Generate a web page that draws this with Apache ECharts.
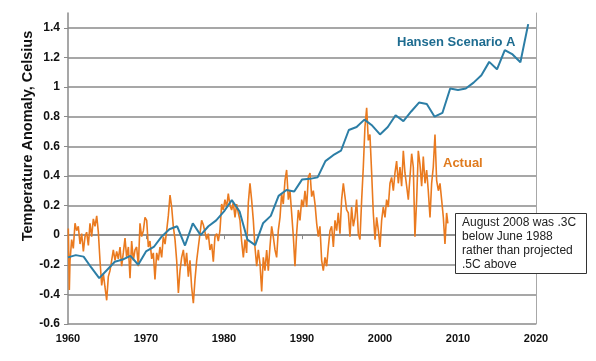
<!DOCTYPE html>
<html>
<head>
<meta charset="utf-8">
<script src="https://cdn.jsdelivr.net/npm/echarts@6/dist/echarts.min.js"></script>
<style>
html,body{margin:0;padding:0;background:#fff;}
#chart{width:596px;height:361px;}
</style>
</head>
<body>
<div id="chart"></div>
<script>
// ---- Data ----
var hansenYears = [1960,1961,1962,1963,1964,1965,1966,1967,1968,1969,1970,1971,1972,1973,1974,1975,1976,1977,1978,1979,1980,1981,1982,1983,1984,1985,1986,1987,1988,1989,1990,1991,1992,1993,1994,1995,1996,1997,1998,1999,2000,2001,2002,2003,2004,2005,2006,2007,2008,2009,2010,2011,2012,2013,2014,2015,2016,2017,2018,2019];
var hansenValues = [-0.15,-0.135,-0.145,-0.22,-0.29,-0.235,-0.18,-0.165,-0.14,-0.2,-0.11,-0.08,-0.01,0.04,0.06,-0.07,0.08,0.0,0.06,0.1,0.16,0.236,0.16,-0.03,-0.067,0.08,0.13,0.265,0.305,0.295,0.375,0.38,0.39,0.5,0.54,0.57,0.71,0.73,0.78,0.74,0.68,0.73,0.81,0.77,0.835,0.895,0.885,0.8,0.825,0.99,0.98,0.99,1.03,1.08,1.17,1.12,1.25,1.22,1.167,1.425];

var actualYears = [1960.04,1960.17,1960.26,1960.47,1960.68,1960.9,1961.11,1961.32,1961.54,1961.75,1961.97,1962.18,1962.39,1962.61,1962.82,1963.03,1963.25,1963.46,1963.68,1963.89,1964.1,1964.32,1964.53,1964.74,1964.96,1965.17,1965.38,1965.6,1965.81,1966.03,1966.24,1966.45,1966.67,1966.88,1967.09,1967.31,1967.52,1967.74,1967.95,1968.16,1968.38,1968.59,1968.8,1969.02,1969.23,1969.44,1969.66,1969.87,1970.09,1970.3,1970.51,1970.73,1970.94,1971.15,1971.37,1971.58,1971.79,1972.01,1972.22,1972.44,1972.65,1972.86,1973.08,1973.29,1973.5,1973.72,1973.93,1974.15,1974.36,1974.57,1974.79,1975.0,1975.21,1975.43,1975.64,1975.85,1976.07,1976.28,1976.5,1976.71,
1977.13,1977.35,1977.56,1977.77,1977.99,1978.2,1978.42,1978.63,1978.84,1979.06,1979.27,1979.48,1979.7,1979.91,1980.12,1980.34,1980.55,1980.77,1980.98,1981.19,1981.41,1981.62,1981.83,1982.05,1982.26,1982.48,1982.69,1982.9,1983.12,1983.33,1983.54,1983.76,1983.97,1984.19,1984.4,1984.61,1984.83,1985.04,1985.25,1985.47,1985.68,1985.89,1986.11,1986.32,1986.54,1986.75,1986.96,1987.18,1987.39,1987.6,1987.82,1988.03,1988.25,1988.46,1988.67,1988.89,1989.1,1989.31,1989.53,1989.74,1989.96,1990.17,1990.38,1990.6,1990.81,1991.03,1991.24,1991.45,1991.67,1991.88,1992.09,1992.3,1992.52,1992.73,1992.95,1993.16,1993.38,1993.59,
1993.8,1994.02,1994.23,1994.44,1994.65,1994.87,1995.08,1995.3,1995.51,1995.72,1995.94,1996.15,1996.36,1996.58,1996.79,1997.0,1997.22,1997.43,1997.65,1997.86,1998.07,1998.29,1998.5,1998.71,1998.93,1999.14,1999.36,1999.57,1999.79,2000.0,2000.21,2000.42,2000.64,2000.85,2001.06,2001.28,2001.49,2001.71,2001.92,2002.13,2002.35,2002.56,2002.77,2002.99,2003.2,2003.42,2003.63,2003.84,2004.06,2004.27,2004.48,2004.7,2004.91,2005.12,2005.34,2005.55,2005.77,2005.98,2006.19,2006.41,2006.62,2006.83,2007.05,2007.26,2007.48,2007.69,2007.9,2008.12,2008.33,2008.54,2008.7];
var actualValues = [0.045,-0.37,-0.17,-0.03,-0.09,0.08,0.03,0.06,-0.06,0.01,-0.11,-0.01,0.02,-0.07,0.08,-0.01,0.11,0.06,0.13,0.02,-0.17,-0.34,-0.26,-0.35,-0.44,-0.28,-0.24,-0.17,-0.1,-0.17,-0.11,-0.16,-0.08,-0.21,-0.12,-0.02,-0.15,-0.08,-0.29,-0.04,-0.17,-0.1,-0.08,-0.21,0.08,-0.01,0.03,0.12,0.1,-0.08,-0.04,-0.16,-0.12,-0.3,-0.12,-0.17,-0.08,-0.15,-0.01,-0.06,0.03,0.13,0.27,0.19,0.06,-0.03,-0.17,-0.39,-0.24,-0.15,-0.1,-0.21,-0.12,-0.28,-0.17,-0.35,-0.46,-0.3,-0.17,-0.08,
0.1,0.07,0.08,-0.03,0.01,-0.1,-0.06,-0.18,-0.01,0.01,-0.04,0.03,0.21,0.17,0.24,0.19,0.28,0.2,0.17,0.22,0.12,0.21,0.15,0.1,-0.04,-0.15,-0.03,-0.12,0.22,0.35,0.24,0.1,-0.08,-0.21,-0.1,-0.19,-0.38,-0.15,-0.24,-0.1,-0.24,-0.08,0.06,-0.01,-0.1,-0.15,0.03,0.12,0.28,0.21,0.37,0.44,0.24,0.3,0.15,-0.01,-0.21,0.01,0.17,0.1,0.24,0.19,0.3,0.19,0.39,0.42,0.26,0.3,0.21,0.08,-0.01,0.06,-0.17,-0.24,-0.15,-0.21,-0.08,0.03,
0.06,-0.08,0.1,0.03,0.15,0.01,0.24,0.35,0.26,0.17,0.15,-0.01,0.19,0.06,0.12,0.24,0.01,-0.03,0.24,0.46,0.73,0.86,0.64,0.68,0.42,0.15,-0.03,0.12,0.03,-0.08,0.1,0.19,0.12,0.24,0.19,0.35,0.39,0.3,0.42,0.5,0.35,0.46,0.33,0.57,0.42,0.33,0.24,0.39,0.55,0.46,-0.01,0.24,0.57,0.48,0.33,0.53,0.35,0.44,0.3,0.12,0.35,0.46,0.68,0.37,0.3,0.35,0.24,0.12,-0.06,0.15,0.08];

var xTicks = [1960, 2020, 10];   // min, max, step
var yTicks = [-0.6, 1.5, 0.2];   // min, max, step

function pairs(xs, ys){ return xs.map(function(x,i){ return [x, ys[i]]; }); }

var chart = echarts.init(document.getElementById('chart'));
var FONT = 'Liberation Sans, Arial, sans-serif';
var GRID = '#8a8a8a';

chart.setOption({
  animation: false,
  backgroundColor: '#fff',
  grid: { left: 68, right: 60, top: 13, bottom: 37 },
  xAxis: {
    type: 'value', min: xTicks[0], max: xTicks[1], interval: xTicks[2],
    axisLine: { show: true, lineStyle: { color: GRID, width: 1.5 } },
    axisTick: { show: true, inside: false, length: 4, lineStyle: { color: GRID } },
    axisLabel: { color: '#111', fontFamily: FONT, fontWeight: 'bold', fontSize: 11, margin: 9,
      formatter: function(v){ return String(v); } },
    splitLine: { show: false }
  },
  yAxis: [{
    type: 'value', min: yTicks[0], max: yTicks[1], interval: yTicks[2],
    axisLine: { show: true, onZero: false, lineStyle: { color: GRID, width: 1.5 } },
    axisTick: { show: true, inside: false, length: 4, lineStyle: { color: GRID } },
    axisLabel: { color: '#111', fontFamily: FONT, fontWeight: 'bold', fontSize: 12, margin: 8, showMaxLabel: false,
      formatter: function(v){ return String(Math.round(v*10)/10); } },
    splitLine: { show: true, showMaxLine: false, lineStyle: { color: GRID, width: 1.5 } }
  }, {
    type: 'value', position: 'right', min: yTicks[0], max: yTicks[1],
    axisLine: { show: true, lineStyle: { color: '#a8a8a8', width: 1 } },
    axisTick: { show: false }, axisLabel: { show: false }, splitLine: { show: false }
  }],
  series: [{
    name: 'Actual', type: 'line', data: pairs(actualYears, actualValues),
    showSymbol: false, symbol: 'none',
    lineStyle: { color: '#ea7a1f', width: 1.6 }, z: 2
  }, {
    name: 'Hansen Scenario A', type: 'line', data: pairs(hansenYears, hansenValues),
    showSymbol: false, symbol: 'none',
    lineStyle: { color: '#2c7ea6', width: 2 }, z: 3
  }],
  graphic: [
    { type: 'text', x: 28, y: 136, rotation: Math.PI/2,
      style: { text: 'Temperature Anomaly, Celsius', font: 'bold 14.5px ' + FONT, fill: '#111', align: 'center', verticalAlign: 'middle' } },
    { type: 'text', x: 397, y: 42,
      style: { text: 'Hansen Scenario A', font: 'bold 13px ' + FONT, fill: '#1e6c90', align: 'left', verticalAlign: 'middle' } },
    { type: 'text', x: 443, y: 163,
      style: { text: 'Actual', font: 'bold 13px ' + FONT, fill: '#e07b1e', align: 'left', verticalAlign: 'middle' } },
    { type: 'rect', shape: { x: 455.5, y: 213.5, width: 131, height: 60 },
      style: { fill: '#fff', stroke: '#333', lineWidth: 1 }, z: 10 },
    { type: 'text', x: 462, y: 216, z: 11,
      style: { text: 'August 2008 was .3C\nbelow June 1988\nrather than projected\n.5C above', font: '12px ' + FONT, fill: '#222', lineHeight: 14, align: 'left', verticalAlign: 'top' } }
  ]
});
</script>
</body>
</html>
